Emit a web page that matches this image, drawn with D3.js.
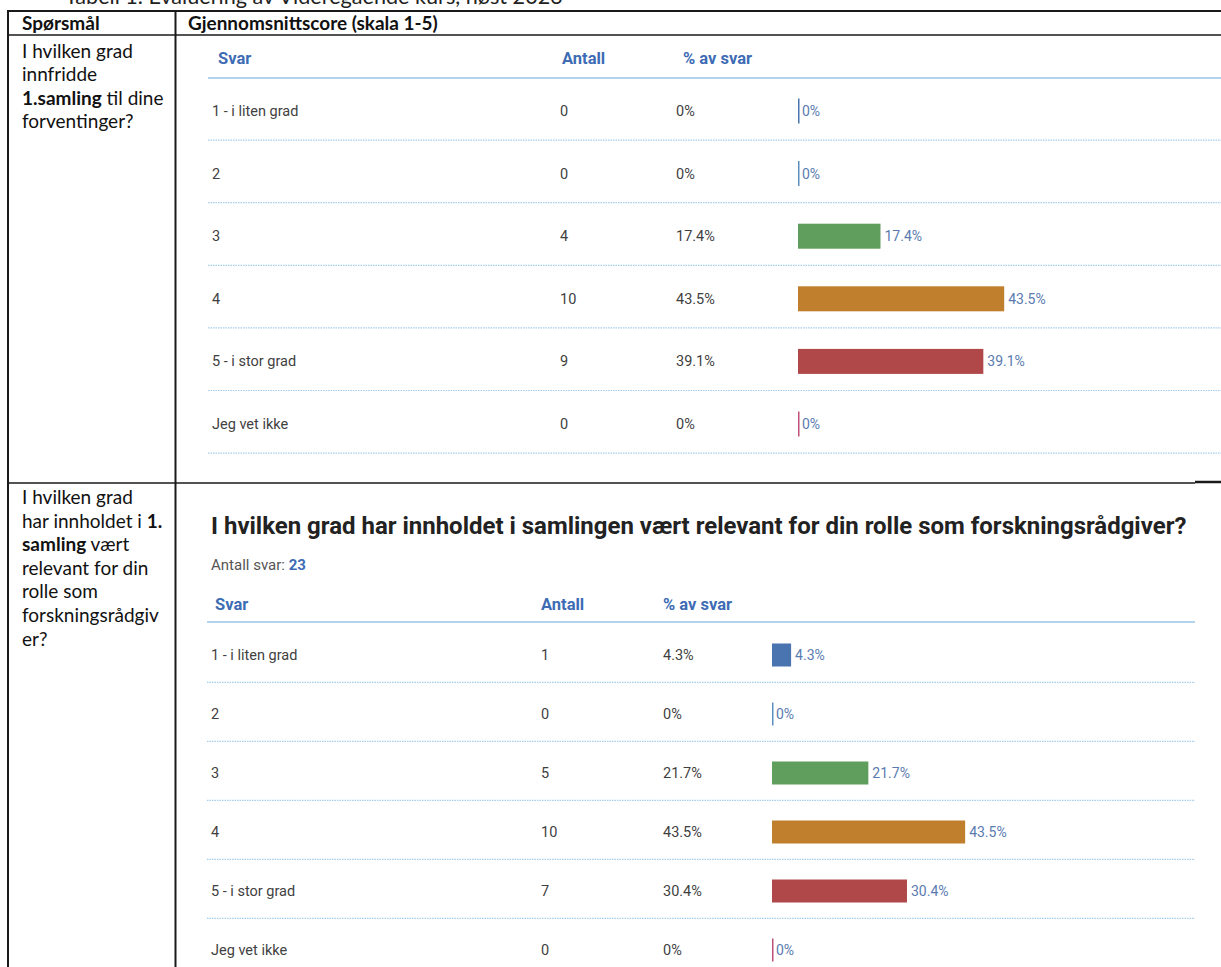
<!DOCTYPE html>
<html><head><meta charset="utf-8">
<script src="https://cdn.jsdelivr.net/npm/d3@7"></script>
<style>html,body{margin:0;padding:0;background:#fff;}svg{display:block;}</style>
</head><body>
<script>
// ---- data ----
const caption = "Tabell 1. Evaluering av Videregående kurs, høst 2023";
const tableHeaders = ["Spørsmål", "Gjennomsnittscore (skala 1-5)"];
const question1Lines = [[["I hvilken grad", false]], [["innfridde", false]], [["1.samling", true], [" til dine", false]], [["forventinger?", false]]];
const question2Lines = [[["I hvilken grad", false]], [["har innholdet i ", false], ["1.", true]], [["samling", true], [" vært", false]], [["relevant for din", false]], [["rolle som", false]], [["forskningsrådgiv", false]], [["er?", false]]];
const colHeaders = ["Svar", "Antall", "% av svar"];
const categories = ["1 - i liten grad", "2", "3", "4", "5 - i stor grad", "Jeg vet ikke"];
const counts1 = [0, 0, 4, 10, 9, 0];
const pct1 = [0, 0, 17.4, 43.5, 39.1, 0];
const counts2 = [1, 0, 5, 10, 7, 0];
const pct2 = [4.3, 0, 21.7, 43.5, 30.4, 0];
const title2 = "I hvilken grad har innholdet i samlingen vært relevant for din rolle som forskningsrådgiver?";
const answersLabel2 = "Antall svar: ";
const answersTotal2 = 23;
const catColors = ["#4a74b0", "#5b8fc0", "#5f9e5c", "#c07f2c", "#b0484a", "#c0507a"];

const W = 1221, H = 967;
const svg = d3.select("body").append("svg").attr("width", W).attr("height", H);
svg.append("rect").attr("width", W).attr("height", H).attr("fill", "#fff");

const calibri = "Lato, 'Open Sans', sans-serif";
const roboto = "Roboto, 'Noto Sans', sans-serif";

function fitWidth(sel, target) {
  const fs = +sel.attr("font-size");
  const w = sel.node().getComputedTextLength();
  if (w > 0) sel.attr("font-size", (fs * target / w).toFixed(2));
}

// caption (cut off at top)
const cap = svg.append("text").attr("x", 65).attr("y", 4).attr("font-family", calibri).attr("font-size", 21)
  .attr("fill", "#222").text(caption);
fitWidth(cap, 498);

// table lines
const lines = svg.append("g").attr("stroke", "#1a1a1a");
lines.append("line").attr("x1", 7).attr("x2", W).attr("y1", 11).attr("y2", 11).attr("stroke-width", 2);
lines.append("line").attr("x1", 7).attr("x2", W).attr("y1", 35).attr("y2", 35).attr("stroke-width", 1.5);
lines.append("line").attr("x1", 8).attr("x2", 8).attr("y1", 10).attr("y2", H).attr("stroke-width", 2);
lines.append("line").attr("x1", 175.5).attr("x2", 175.5).attr("y1", 10).attr("y2", H).attr("stroke-width", 2);
lines.append("line").attr("x1", 7).attr("x2", 1195).attr("y1", 483).attr("y2", 483).attr("stroke-width", 1.5);
lines.append("line").attr("x1", 1195).attr("x2", W).attr("y1", 482).attr("y2", 482).attr("stroke-width", 2.5);

// table header
const h1 = svg.append("text").attr("x", 22).attr("y", 30).attr("font-family", calibri).attr("font-weight", "bold")
  .attr("font-size", 19).attr("fill", "#111").text(tableHeaders[0]);
const h2 = svg.append("text").attr("x", 188).attr("y", 30).attr("font-family", calibri).attr("font-weight", "bold")
  .attr("font-size", 19).attr("fill", "#111").text(tableHeaders[1]);
fitWidth(h2, 250);

function drawQuestion(linesArr, y0) {
  linesArr.forEach((segs, i) => {
    const t = svg.append("text").attr("x", 22).attr("y", y0 + i * 23.6)
      .attr("font-family", calibri).attr("font-size", 19).attr("fill", "#111");
    segs.forEach(([s, b]) => t.append("tspan").attr("font-weight", b ? "bold" : "normal").text(s));
  });
}
drawQuestion(question1Lines, 57.5);
drawQuestion(question2Lines, 504);

const fmtPct = v => v === 0 ? "0%" : v.toFixed(1) + "%";

function drawChart(cfg, counts, pcts) {
  const g = svg.append("g");
  const hx = [cfg.svarX, cfg.antX, cfg.pctHX];
  colHeaders.forEach((h, i) => {
    g.append("text").attr("x", hx[i]).attr("y", cfg.headerY).attr("dy", "0.35em")
      .attr("font-family", roboto).attr("font-weight", "bold").attr("font-size", 16.5)
      .attr("fill", "#3d6cb4").text(h);
  });
  g.append("line").attr("x1", cfg.lineX0).attr("x2", cfg.lineX1).attr("y1", cfg.lineY).attr("y2", cfg.lineY)
    .attr("stroke", "#b3d2ee").attr("stroke-width", 2);

  const y = d3.scalePoint().domain(categories).range([cfg.firstY, cfg.firstY + (categories.length - 1) * cfg.step]);
  const x = d3.scaleLinear().domain([0, 100]).range([cfg.barX0, cfg.barX0 + 100 * cfg.pxPerPct]);

  const rows = g.selectAll("g.row").data(categories).join("g").attr("class", "row");
  rows.append("line").attr("x1", cfg.lineX0).attr("x2", cfg.lineX1)
    .attr("y1", d => y(d) + cfg.step * 0.465).attr("y2", d => y(d) + cfg.step * 0.465)
    .attr("stroke", "#a6cdec").attr("stroke-width", 1.2).attr("stroke-dasharray", "1.5,1");
  const txt = (sel, xx, f) => sel.append("text").attr("x", xx).attr("y", d => y(d)).attr("dy", "0.35em")
    .attr("font-family", roboto).attr("font-size", 14.5).attr("fill", "#3f3f3f").text(f);
  txt(rows, cfg.labelX, d => d);
  txt(rows, cfg.countX, (d, i) => counts[i]);
  txt(rows, cfg.pctX, (d, i) => fmtPct(pcts[i]));
  rows.each(function (d, i) {
    const r = d3.select(this);
    const v = pcts[i];
    if (v > 0) {
      r.append("rect").attr("x", x(0)).attr("y", y(d) - cfg.barH / 2)
        .attr("width", x(v) - x(0)).attr("height", cfg.barH).attr("fill", catColors[i]);
    } else {
      r.append("line").attr("x1", x(0) + 0.75).attr("x2", x(0) + 0.75)
        .attr("y1", y(d) - cfg.barH / 2).attr("y2", y(d) + cfg.barH / 2)
        .attr("stroke", catColors[i]).attr("stroke-width", 1.5);
    }
    r.append("text").attr("x", x(v) + 4).attr("y", y(d)).attr("dy", "0.35em")
      .attr("font-family", roboto).attr("font-size", 14).attr("fill", "#5a7bb0").text(fmtPct(v));
  });
}

drawChart({svarX: 218, antX: 562, pctHX: 683, headerY: 58, lineY: 78, lineX0: 208, lineX1: W,
  firstY: 111, step: 62.6, labelX: 212, countX: 560, pctX: 676, barX0: 798, pxPerPct: 4.74, barH: 25}, counts1, pct1);

// chart 2 title
const t2 = svg.append("text").attr("x", 211).attr("y", 534).attr("font-family", roboto).attr("font-weight", "bold")
  .attr("font-size", 22).attr("fill", "#222").text(title2);
fitWidth(t2, 976);
const at = svg.append("text").attr("x", 211).attr("y", 570).attr("font-family", roboto).attr("font-size", 15).attr("fill", "#555");
at.append("tspan").text(answersLabel2);
at.append("tspan").attr("font-weight", "bold").attr("fill", "#3d6cb4").text(answersTotal2);

drawChart({svarX: 215, antX: 541, pctHX: 663, headerY: 604, lineY: 622, lineX0: 207, lineX1: 1195,
  firstY: 655, step: 59, labelX: 211, countX: 541, pctX: 663, barX0: 772, pxPerPct: 4.44, barH: 23}, counts2, pct2);
</script>
</body></html>
